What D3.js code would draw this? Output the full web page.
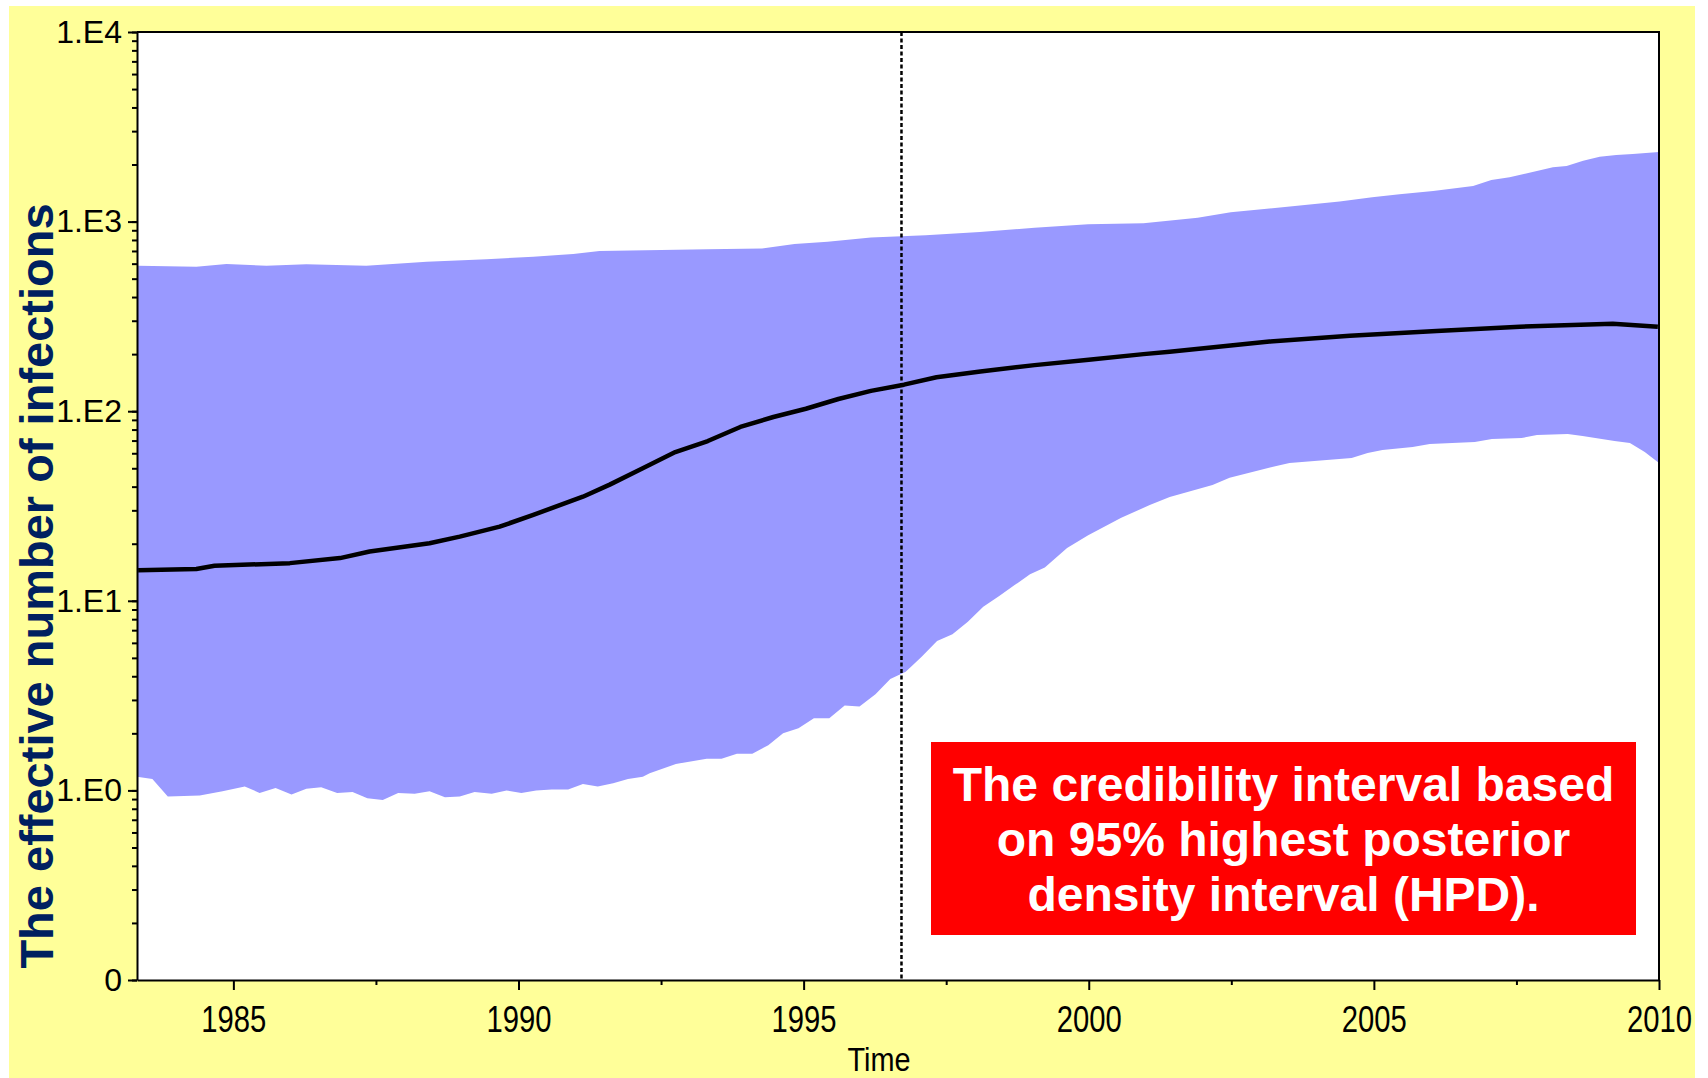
<!DOCTYPE html>
<html>
<head>
<meta charset="utf-8">
<script src="https://cdn.jsdelivr.net/npm/d3@7.9.0/dist/d3.min.js"></script>
<style>
  body { margin: 0; background: #ffffff; }
  svg { display: block; }
</style>
</head>
<body>
<div id="chart"></div>
<script>
// x domain (years) and y ticks
const xDomain = [1983.31, 2010];
const xMajorTicks = [1985, 1990, 1995, 2000, 2005, 2010];
const xMinorTicks = [1987.5, 1992.5, 1997.5, 2002.5, 2007.5];
const yMajorTicks = [0.1, 1, 10, 100, 1000, 10000];
const yTickLabels = ['0', '1.E0', '1.E1', '1.E2', '1.E3', '1.E4'];
const markerYear = 1996.716;

// upper 95% HPD
const upperYears = [1983.33, 1984.35, 1984.88, 1985.58, 1986.28, 1987.33, 1988.39, 1989.44, 1990.26, 1990.96,
  1991.42, 1993.32, 1994.27, 1994.84, 1995.42, 1996.18, 1997.14, 1998.09, 1999.05, 1999.99,
  2000.96, 2001.91, 2002.49, 2003.44, 2004.40, 2004.97, 2005.45, 2006.04, 2006.74, 2007.06,
  2007.38, 2008.14, 2008.38, 2008.67, 2008.96, 2009.25, 2009.54, 2010.00];
const upperValues = [585, 578, 597, 585, 595, 585, 615, 633, 653, 675,
  700, 714, 722, 762, 782, 824, 847, 881, 929, 967,
  980, 1047, 1119, 1195, 1277, 1346, 1394, 1450, 1541, 1657,
  1713, 1934, 1965, 2095, 2199, 2245, 2274, 2328];

// median
const medianYears = [1983.33, 1984.35, 1984.67, 1985.99, 1986.87, 1987.39, 1988.44, 1988.97, 1989.67, 1990.26,
  1991.13, 1991.60, 1992.17, 1992.75, 1993.32, 1993.89, 1994.47, 1995.04, 1995.61, 1996.18,
  1996.76, 1997.33, 1998.10, 1999.05, 2000.00, 2000.96, 2001.42, 2003.17, 2004.58, 2006.10,
  2007.56, 2009.19, 2009.98];
const medianValues = [14.5, 14.7, 15.3, 15.8, 16.8, 18.2, 20.1, 21.8, 24.6, 28.4,
  35.4, 41.0, 49.9, 60.9, 69.6, 82.6, 93.2, 103, 116, 128,
  138, 151, 162, 175, 187, 200, 206, 233, 250, 265,
  279, 289, 279];

// lower 95% HPD
const lowerYears = [1983.31, 1983.58, 1983.85, 1984.41, 1984.81, 1985.20, 1985.46, 1985.74, 1986.02, 1986.28,
  1986.54, 1986.82, 1987.09, 1987.35, 1987.62, 1987.89, 1988.18, 1988.44, 1988.71, 1988.97,
  1989.23, 1989.53, 1989.79, 1990.05, 1990.31, 1990.58, 1990.87, 1991.13, 1991.39, 1991.66,
  1991.92, 1992.18, 1992.30, 1992.76, 1993.30, 1993.56, 1993.83, 1994.10, 1994.38, 1994.64,
  1994.91, 1995.18, 1995.45, 1995.72, 1995.98, 1996.26, 1996.52, 1996.79, 1997.07, 1997.34,
  1997.61, 1997.88, 1998.15, 1998.43, 1998.70, 1998.97, 1999.23, 1999.62, 1999.99, 2000.57,
  2001.07, 2001.42, 2002.17, 2002.47, 2003.29, 2003.52, 2004.61, 2004.89, 2005.15, 2005.68,
  2005.98, 2006.77, 2007.07, 2007.59, 2007.86, 2008.40, 2008.66, 2009.22, 2009.49, 2009.75,
  2010.00];
const lowerValues = [1.18, 1.15, 0.93, 0.94, 0.99, 1.05, 0.97, 1.03, 0.95, 1.02,
  1.04, 0.97, 0.98, 0.91, 0.89, 0.97, 0.96, 0.99, 0.92, 0.93,
  0.98, 0.96, 1.00, 0.97, 1.00, 1.01, 1.01, 1.08, 1.05, 1.09,
  1.15, 1.18, 1.23, 1.38, 1.47, 1.47, 1.56, 1.56, 1.73, 2.00,
  2.13, 2.40, 2.40, 2.80, 2.77, 3.21, 3.87, 4.23, 5.07, 6.14,
  6.66, 7.76, 9.31, 10.6, 12.1, 13.8, 15.0, 19.0, 22.2, 27.4,
  32.0, 35.3, 40.8, 44.5, 51.4, 53.3, 56.7, 60.2, 62.4, 64.7,
  67.1, 68.8, 71.3, 72.2, 74.9, 75.8, 74.0, 69.6, 68.0, 60.9,
  53.3];

const noteLines = ['The credibility interval based', 'on 95% highest posterior', 'density interval (HPD).'];

const width = 1708;
const height = 1078;
const plot = { left: 137, right: 1659, top: 32, bottom: 980 };

const svg = d3.select('#chart')
  .append('svg')
  .attr('width', width)
  .attr('height', height);

// yellow slide background
svg.append('rect')
  .attr('x', 9).attr('y', 6)
  .attr('width', 1686).attr('height', 1072)
  .attr('fill', '#ffff99');

svg.append('rect')
  .attr('x', plot.left).attr('y', plot.top)
  .attr('width', plot.right - plot.left).attr('height', plot.bottom - plot.top)
  .attr('fill', '#ffffff');

const xScale = d3.scaleLinear().domain(xDomain).range([plot.left, plot.right]);
const yScale = d3.scaleLog().domain([0.1, 10000]).range([plot.bottom, plot.top]);

const upper = upperYears.map((y, i) => ({ year: y, value: upperValues[i] }));
const lower = lowerYears.map((y, i) => ({ year: y, value: lowerValues[i] }));
const median = medianYears.map((y, i) => ({ year: y, value: medianValues[i] }));

const line = d3.line()
  .x((d) => xScale(d.year))
  .y((d) => yScale(d.value));

// HPD band: upper edge forward, lower edge back
svg.append('path')
  .attr('d', line(upper.concat(lower.slice().reverse())) + 'Z')
  .attr('fill', '#9999ff');

svg.append('path')
  .attr('d', line(median))
  .attr('fill', 'none')
  .attr('stroke', '#000')
  .attr('stroke-width', 4.5)
  .attr('stroke-linejoin', 'round');

svg.append('line')
  .attr('x1', xScale(markerYear)).attr('x2', xScale(markerYear))
  .attr('y1', plot.top).attr('y2', plot.bottom)
  .attr('stroke', '#000')
  .attr('stroke-width', 2.5)
  .attr('stroke-dasharray', '4,2.5');

// note box
const box = { x: 931, y: 742, w: 705, h: 193 };
svg.append('rect')
  .attr('x', box.x).attr('y', box.y)
  .attr('width', box.w).attr('height', box.h)
  .attr('fill', '#ff0000');

svg.append('g')
  .selectAll('text')
  .data(noteLines)
  .join('text')
  .attr('x', box.x + box.w / 2)
  .attr('y', (d, i) => 801 + i * 55)
  .attr('text-anchor', 'middle')
  .attr('fill', '#ffffff')
  .style('font-family', 'Liberation Sans, Arial, sans-serif')
  .style('font-weight', 'bold')
  .style('font-size', '48px')
  .text((d) => d);

// frame top and right
svg.append('path')
  .attr('d', `M${plot.left},${plot.top}H${plot.right}V${plot.bottom}`)
  .attr('fill', 'none')
  .attr('stroke', '#000')
  .attr('stroke-width', 2);

// y axis: minor then major
const yMinor = svg.append('g')
  .attr('transform', `translate(${plot.left},0)`)
  .call(d3.axisLeft(yScale).tickValues(yScale.ticks()).tickSize(5).tickFormat(''));
yMinor.select('.domain').remove();

const yMajor = svg.append('g')
  .attr('transform', `translate(${plot.left},0)`)
  .call(d3.axisLeft(yScale)
    .tickValues(yMajorTicks)
    .tickSize(9)
    .tickSizeOuter(0)
    .tickPadding(6)
    .tickFormat((d, i) => yTickLabels[i]));

const xMinor = svg.append('g')
  .attr('transform', `translate(0,${plot.bottom})`)
  .call(d3.axisBottom(xScale).tickValues(xMinorTicks).tickSize(5).tickFormat(''));
xMinor.select('.domain').remove();

const xMajor = svg.append('g')
  .attr('transform', `translate(0,${plot.bottom})`)
  .call(d3.axisBottom(xScale)
    .tickValues(xMajorTicks)
    .tickSize(10)
    .tickSizeOuter(0)
    .tickPadding(16)
    .tickFormat(d3.format('d')));

svg.selectAll('.domain, .tick line')
  .attr('stroke', '#000')
  .attr('stroke-width', 2);

yMajor.selectAll('text')
  .attr('fill', '#000')
  .style('font-family', 'Liberation Sans, Arial, sans-serif')
  .style('font-size', '32px');

// x labels are squeezed horizontally in the original
xMajor.selectAll('text')
  .attr('fill', '#000')
  .attr('textLength', 65)
  .attr('lengthAdjust', 'spacingAndGlyphs')
  .style('font-family', 'Liberation Sans, Arial, sans-serif')
  .style('font-size', '36px');

svg.append('text')
  .attr('x', 879)
  .attr('y', 1071)
  .attr('text-anchor', 'middle')
  .attr('textLength', 63)
  .attr('lengthAdjust', 'spacingAndGlyphs')
  .style('font-family', 'Liberation Sans, Arial, sans-serif')
  .style('font-size', '33px')
  .text('Time');

svg.append('text')
  .attr('transform', 'translate(53,586) rotate(-90)')
  .attr('text-anchor', 'middle')
  .attr('fill', '#002060')
  .style('font-family', 'Liberation Sans, Arial, sans-serif')
  .style('font-weight', 'bold')
  .style('font-size', '47px')
  .text('The effective number of infections');
</script>
</body>
</html>
